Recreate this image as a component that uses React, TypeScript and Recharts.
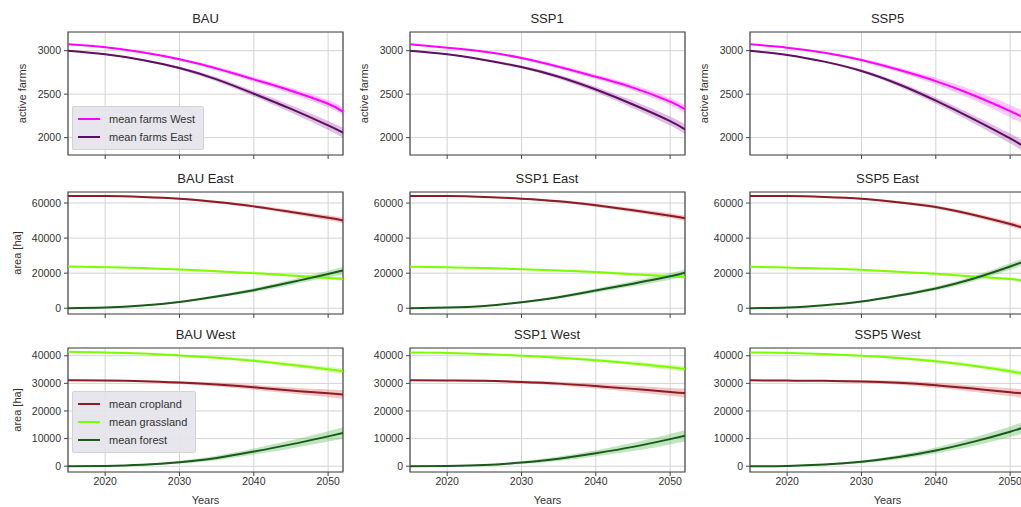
import React from "react";
import {
  ComposedChart,
  Line,
  Area,
  XAxis,
  YAxis,
  CartesianGrid,
  ReferenceArea,
} from "recharts";

const years = [2015, 2020, 2025, 2030, 2035, 2040, 2045, 2050, 2052];
const xTicks = [2020, 2030, 2040, 2050];
const scenarios = ["BAU", "SSP1", "SSP5"];

const farmTicks = [2000, 2500, 3000];
const eastTicks = [0, 20000, 40000, 60000];
const westTicks = [0, 10000, 20000, 30000, 40000];

// active farms
const bauFarmsWest = [3073, 3039, 2982, 2901, 2795, 2670, 2540, 2390, 2299];
const bauFarmsEast = [3000, 2958, 2893, 2800, 2670, 2505, 2330, 2140, 2058];
const ssp1FarmsWest = [3073, 3034, 2989, 2916, 2815, 2700, 2575, 2414, 2326];
const ssp1FarmsEast = [3000, 2958, 2893, 2812, 2700, 2553, 2381, 2190, 2094];
const ssp5FarmsWest = [3073, 3034, 2977, 2893, 2780, 2650, 2490, 2305, 2225];
const ssp5FarmsEast = [3000, 2951, 2874, 2767, 2614, 2425, 2215, 1990, 1890];

const farmsWestSpread = [4, 6, 10, 14, 20, 26, 34, 42, 46];
const farmsEastSpread = [4, 6, 10, 16, 24, 32, 42, 52, 58];
const ssp5WestSpread = [4, 6, 10, 16, 26, 40, 55, 70, 75];
const ssp5EastSpread = [4, 6, 10, 16, 26, 36, 46, 56, 60];

// East land use [ha]
const bauEastCrop = [64000, 64000, 63500, 62500, 60600, 58100, 54900, 51600, 50100];
const bauEastGrass = [23800, 23400, 22900, 22100, 21100, 20000, 18700, 17300, 16800];
const bauEastForest = [0, 400, 1500, 3600, 6700, 10300, 14800, 19500, 21500];
const ssp1EastCrop = [64000, 64000, 63500, 62500, 61000, 58700, 55900, 52800, 51300];
const ssp1EastGrass = [23600, 23300, 22900, 22300, 21500, 20600, 19400, 18300, 17700];
const ssp1EastForest = [0, 400, 1300, 3400, 6300, 10100, 14000, 18200, 20200];
const ssp5EastCrop = [64000, 64000, 63500, 62500, 60400, 57700, 53300, 48000, 45500];
const ssp5EastGrass = [23600, 23200, 22700, 21900, 20800, 19600, 18100, 16600, 15600];
const ssp5EastForest = [0, 400, 1700, 3800, 7200, 11300, 16800, 23800, 27000];

// West land use [ha]
const bauWestCrop = [31100, 31000, 30800, 30300, 29600, 28600, 27400, 26400, 26000];
const bauWestGrass = [41400, 41200, 40800, 40100, 39300, 38200, 36700, 35100, 34400];
const bauWestForest = [0, 100, 500, 1450, 3000, 5300, 7900, 10800, 12000];
const ssp1WestCrop = [31100, 31000, 30900, 30500, 29900, 29000, 28000, 26900, 26500];
const ssp1WestGrass = [41200, 41000, 40600, 40000, 39300, 38400, 37200, 35800, 35200];
const ssp1WestForest = [0, 100, 400, 1300, 2700, 4700, 7000, 9800, 11000];
const ssp5WestCrop = [31100, 31000, 30900, 30700, 30200, 29300, 28100, 26800, 26200];
const ssp5WestGrass = [41200, 41000, 40600, 40000, 39200, 38000, 36400, 34400, 33300];
const ssp5WestForest = [0, 100, 600, 1600, 3300, 5700, 8800, 12500, 14200];

const cropSpread = [200, 250, 350, 500, 700, 900, 1100, 1400, 1600];
const grassSpread = [200, 250, 300, 400, 500, 600, 700, 900, 1000];
const forestSpread = [0, 100, 250, 500, 800, 1100, 1500, 1900, 2100];

const FONT = '"Liberation Sans", Arial, sans-serif';
const PLOT_W = 275;
const colLeft = [68, 409.5, 750];
const rowTop = [32, 192, 348];
const rowH = [123, 122, 124];

type Series = { name: string; values: number[]; spread: number[]; color: string; band: string };

const farmsSeries = (w: number[], e: number[], ws: number[], es: number[]): Series[] => [
  { name: "mean farms West", values: w, spread: ws, color: "#ff00ff", band: "#ff70ff" },
  { name: "mean farms East", values: e, spread: es, color: "#5e0f63", band: "#b060b8" },
];

const landSeries = (c: number[], g: number[], f: number[]): Series[] => [
  { name: "mean cropland", values: c, spread: cropSpread, color: "#8b1c24", band: "#e07070" },
  { name: "mean grassland", values: g, spread: grassSpread, color: "#7cfc00", band: "#a8f050" },
  { name: "mean forest", values: f, spread: forestSpread, color: "#1a5a1a", band: "#60c060" },
];

const rows = [
  {
    suffix: "",
    yLabel: "active farms",
    labelOffset: 22,
    domain: [1800, 3215],
    ticks: farmTicks,
    series: [
      farmsSeries(bauFarmsWest, bauFarmsEast, farmsWestSpread, farmsEastSpread),
      farmsSeries(ssp1FarmsWest, ssp1FarmsEast, farmsWestSpread, farmsEastSpread),
      farmsSeries(ssp5FarmsWest, ssp5FarmsEast, ssp5WestSpread, ssp5EastSpread),
    ],
  },
  {
    suffix: " East",
    yLabel: "area [ha]",
    labelOffset: 17,
    domain: [-3300, 66300],
    ticks: eastTicks,
    series: [
      landSeries(bauEastCrop, bauEastGrass, bauEastForest),
      landSeries(ssp1EastCrop, ssp1EastGrass, ssp1EastForest),
      landSeries(ssp5EastCrop, ssp5EastGrass, ssp5EastForest),
    ],
  },
  {
    suffix: " West",
    yLabel: "area [ha]",
    labelOffset: 17,
    domain: [-2100, 42800],
    ticks: westTicks,
    series: [
      landSeries(bauWestCrop, bauWestGrass, bauWestForest),
      landSeries(ssp1WestCrop, ssp1WestGrass, ssp1WestForest),
      landSeries(ssp5WestCrop, ssp5WestGrass, ssp5WestForest),
    ],
  },
];

const LegendBox = ({ items, left, top }: { items: Series[]; left: number; top: number }) => (
  <div
    style={{
      position: "absolute",
      left,
      top,
      padding: "3px 8px 3px 5px",
      background: "rgba(228,228,234,0.92)",
      border: "1px solid #d2d2d8",
      borderRadius: 2,
      fontFamily: FONT,
      fontSize: 11,
      color: "#333",
    }}
  >
    {items.map((s) => (
      <div key={s.name} style={{ display: "flex", alignItems: "center", height: 18 }}>
        <div style={{ width: 22, height: 2, background: s.color, marginRight: 9 }} />
        <span>{s.name}</span>
      </div>
    ))}
  </div>
);

const Panel = ({ r, c }: { r: number; c: number }) => {
  const row = rows[r];
  const series = row.series[c];
  const isBottom = r === 2;
  const mb = isBottom ? 35 : 10;
  const ph = rowH[r];
  const data = years.map((year, i) => {
    const d: Record<string, number | number[]> = { year };
    series.forEach((s, k) => {
      d[`v${k}`] = s.values[i];
      d[`b${k}`] = [s.values[i] - s.spread[i], s.values[i] + s.spread[i]];
    });
    return d;
  });
  const showYLabel = r === 0 || c === 0;
  const tickStyle = { fill: "#333", fontSize: 10.5, fontFamily: FONT };

  return (
    <>
      <div
        style={{
          position: "absolute",
          left: colLeft[c],
          top: rowTop[r] - 21,
          width: PLOT_W,
          textAlign: "center",
          fontFamily: FONT,
          fontSize: 13,
          color: "#262626",
        }}
      >
        {scenarios[c] + row.suffix}
      </div>
      <div style={{ position: "absolute", left: colLeft[c] - 68, top: rowTop[r] - 4 }}>
        <ComposedChart
          width={68 + PLOT_W + 6}
          height={4 + ph + mb}
          data={data}
          margin={{ top: 4, right: 6, left: 0, bottom: 0 }}
        >
          <CartesianGrid stroke="#d4d4d4" strokeWidth={1} />
          <XAxis
            dataKey="year"
            type="number"
            domain={[2015, 2052]}
            ticks={xTicks}
            allowDataOverflow
            height={mb}
            axisLine={false}
            tickLine={{ stroke: "#444" }}
            tickSize={4}
            tickMargin={2}
            tick={tickStyle}
            tickFormatter={(v) => (isBottom ? String(v) : "")}
            label={
              isBottom
                ? { value: "Years", position: "insideBottom", offset: 3, fill: "#333", fontSize: 11, fontFamily: FONT }
                : undefined
            }
          />
          <YAxis
            type="number"
            domain={row.domain}
            ticks={row.ticks}
            allowDataOverflow
            width={68}
            axisLine={false}
            tickLine={{ stroke: "#444" }}
            tickSize={4}
            tickMargin={3}
            tick={tickStyle}
            label={
              showYLabel
                ? {
                    value: row.yLabel,
                    angle: -90,
                    position: "insideLeft",
                    offset: row.labelOffset,
                    fill: "#333",
                    fontSize: 11,
                    fontFamily: FONT,
                    style: { textAnchor: "middle" },
                  }
                : undefined
            }
          />
          {series.map((s, k) => (
            <Area
              key={`b${k}`}
              type="natural"
              dataKey={`b${k}`}
              stroke="none"
              fill={s.band}
              fillOpacity={0.4}
              isAnimationActive={false}
            />
          ))}
          {series.map((s, k) => (
            <Line
              key={`v${k}`}
              type="natural"
              dataKey={`v${k}`}
              stroke={s.color}
              strokeWidth={2}
              dot={false}
              isAnimationActive={false}
            />
          ))}
          <ReferenceArea
            x1={2015}
            x2={2052}
            y1={row.domain[0]}
            y2={row.domain[1]}
            fill="none"
            fillOpacity={0}
            stroke="#4a4a4a"
            strokeWidth={1.2}
          />
        </ComposedChart>
      </div>
    </>
  );
};

export default function App() {
  return (
    <div
      style={{
        position: "absolute",
        left: 0,
        top: 0,
        width: 1021,
        height: 507,
        overflow: "hidden",
        background: "#fff",
      }}
    >
      {[0, 1, 2].map((r) => [0, 1, 2].map((c) => <Panel key={`${r}-${c}`} r={r} c={c} />))}
      <LegendBox items={rows[0].series[0]} left={72} top={106} />
      <LegendBox items={rows[2].series[0]} left={72} top={391} />
    </div>
  );
}
